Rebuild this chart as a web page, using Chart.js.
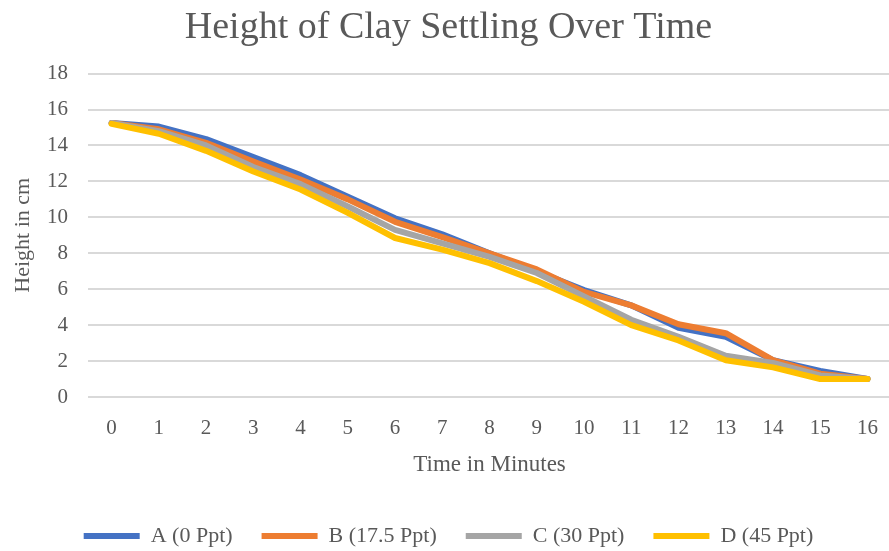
<!DOCTYPE html>
<html>
<head>
<meta charset="utf-8">
<script src="https://cdn.jsdelivr.net/npm/chart.js@4.4.0/dist/chart.umd.min.js"></script>
<style>
  html, body { margin: 0; padding: 0; background: #ffffff; overflow: hidden; }
  #wrap { width: 897px; height: 557px; }
</style>
</head>
<body>
<div id="wrap"><canvas id="c" width="897" height="557"></canvas></div>
<script>
const minutes = ['0','1','2','3','4','5','6','7','8','9','10','11','12','13','14','15','16'];
const seriesA = [15.25, 15.05, 14.35, 13.35, 12.35, 11.15, 9.95, 9.05, 8.0, 7.0, 5.95, 5.1, 3.85, 3.35, 2.05, 1.45, 1.0];
const seriesB = [15.25, 14.9, 14.15, 13.1, 12.1, 11.0, 9.75, 8.9, 8.0, 7.1, 5.85, 5.1, 4.05, 3.55, 2.05, 1.3, 1.0];
const seriesC = [15.25, 14.8, 14.0, 12.8, 11.85, 10.6, 9.3, 8.55, 7.8, 6.9, 5.6, 4.3, 3.35, 2.3, 1.9, 1.2, 1.0];
const seriesD = [15.2, 14.65, 13.7, 12.55, 11.55, 10.25, 8.85, 8.2, 7.45, 6.45, 5.3, 4.0, 3.15, 2.05, 1.65, 1.0, 1.0];
const seriesNames = ['A (0 Ppt)', 'B (17.5 Ppt)', 'C (30 Ppt)', 'D (45 Ppt)'];
const seriesColors = ['#4472C4', '#ED7D31', '#A5A5A5', '#FFC000'];

const textColor = '#595959';
const serif = '"Liberation Serif", "DejaVu Serif", serif';

const datasets = [seriesA, seriesB, seriesC, seriesD].map((vals, i) => ({
  label: seriesNames[i],
  data: vals,
  order: 3 - i,
  borderColor: seriesColors[i],
  backgroundColor: seriesColors[i],
  borderWidth: 6,
  pointRadius: 0,
  pointHoverRadius: 0,
  tension: 0,
  fill: false,
  borderCapStyle: 'round',
  borderJoinStyle: 'round'
}));

new Chart(document.getElementById('c'), {
  type: 'line',
  data: { labels: minutes, datasets: datasets },
  options: {
    responsive: false,
    animation: false,
    devicePixelRatio: 1,
    layout: { padding: { left: 0, right: 0, top: 0, bottom: 0 } },
    plugins: {
      title: {
        display: true,
        text: 'Height of Clay Settling Over Time',
        color: textColor,
        font: { family: serif, size: 38, weight: 'normal' },
        padding: { top: 5, bottom: 23 }
      },
      legend: {
        display: true,
        position: 'bottom',
        labels: {
          color: textColor,
          font: { family: serif, size: 22 },
          boxWidth: 56,
          boxHeight: 6,
          padding: 29,
          generateLabels: (chart) => chart.data.datasets.map((ds, i) => ({
            text: ds.label,
            fillStyle: ds.borderColor,
            strokeStyle: ds.borderColor,
            lineWidth: 0,
            fontColor: textColor,
            datasetIndex: i,
            hidden: false
          }))
        }
      },
      tooltip: { enabled: false }
    },
    scales: {
      x: {
        type: 'category',
        offset: true,
        grid: { display: false, drawTicks: false },
        border: { display: false },
        ticks: { color: textColor, font: { family: serif, size: 21 }, padding: 19, maxRotation: 0, autoSkip: false },
        title: {
          display: true,
          text: 'Time in Minutes',
          color: textColor,
          font: { family: serif, size: 23 },
          padding: { top: 11, bottom: 17 }
        },
        afterFit: (scale) => { scale.height = 99; }
      },
      y: {
        min: 0,
        max: 18,
        grid: { color: '#D9D9D9', lineWidth: 2, drawTicks: false },
        border: { display: false },
        ticks: { stepSize: 2, color: textColor, font: { family: serif, size: 21 }, padding: 20 },
        title: {
          display: true,
          text: 'Height in cm',
          color: textColor,
          font: { family: serif, size: 22 },
          padding: { top: 10, bottom: 0 }
        },
        afterFit: (scale) => { scale.width = 88; }
      }
    }
  }
});
</script>
</body>
</html>
